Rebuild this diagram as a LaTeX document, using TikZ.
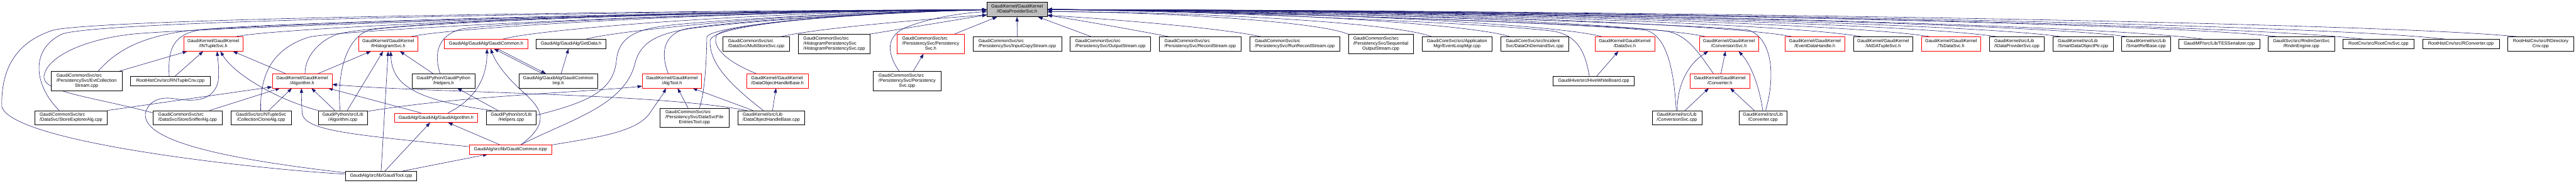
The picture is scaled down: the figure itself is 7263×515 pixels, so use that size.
\documentclass[tikz,border=0pt]{standalone}
\usepackage{fontspec}
\setmainfont{Liberation Sans}
\usetikzlibrary{arrows.meta,backgrounds}
\definecolor{edgeblue}{HTML}{191970}
\definecolor{rootgray}{HTML}{BFBFBF}
\definecolor{boxred}{HTML}{FF0000}
\newcommand\lblii[2]{\begin{tabular}{@{}l@{}}#1\\\multicolumn{1}{@{}c@{}}{#2}\end{tabular}}
\newcommand\lbliii[3]{\begin{tabular}{@{}l@{}}#1\\#2\\\multicolumn{1}{@{}c@{}}{#3}\end{tabular}}
\tikzset{
  basebox/.style={line width=1.1pt, inner sep=0pt, align=center, fill=white,
    font=\fontsize{12.8}{14}\selectfont},
  nbox/.style={basebox, draw=black},
  rbox/.style={basebox, draw=boxred},
  gbox/.style={basebox, draw=black, fill=rootgray},
  hone/.style={minimum height=26pt},
  htwo/.style={minimum height=40pt},
  hthree/.style={minimum height=54pt},
  edge/.style={draw=edgeblue, line width=1pt, -{Triangle[length=13pt,width=9pt]}},
}
\begin{document}
\begin{tikzpicture}[x=1pt,y=-1pt]
\useasboundingbox (0,0) rectangle (7263,515);
% ---------------- nodes
\node[gbox, minimum width=169pt, minimum height=41pt] (root) at (2867.5,26.5) {\lblii{GaudiKernel/GaudiKernel}{/IDataProviderSvc.h}};
% level 1
\node[rbox, htwo, minimum width=167pt] (intuple) at (601.5,124) {\lblii{GaudiKernel/GaudiKernel}{/INTupleSvc.h}};
\node[rbox, htwo, minimum width=167pt] (ihisto) at (1094.5,124) {\lblii{GaudiKernel/GaudiKernel}{/IHistogramSvc.h}};
\node[rbox, hone, minimum width=235pt] (gcommonh) at (1370.5,124) {GaudiAlg/GaudiAlg/GaudiCommon.h};
\node[nbox, hone, minimum width=196pt] (getdata) at (1610,124) {GaudiAlg/GaudiAlg/GetData.h};
\node[nbox, htwo, minimum width=188pt] (multistore) at (2132,124) {\lblii{GaudiCommonSvc/src}{/DataSvc/MultiStoreSvc.cpp}};
\node[nbox, hthree, minimum width=202pt] (histpers) at (2352,124) {\lbliii{GaudiCommonSvc/src}{/HistogramPersistencySvc}{/HistogramPersistencySvc.cpp}};
\node[rbox, hthree, minimum width=190pt] (perssvch) at (2624,124) {\lbliii{GaudiCommonSvc/src}{/PersistencySvc/Persistency}{Svc.h}};
\node[nbox, htwo, minimum width=250pt] (inputcopy) at (2868,124) {\lblii{GaudiCommonSvc/src}{/PersistencySvc/InputCopyStream.cpp}};
\node[nbox, htwo, minimum width=227pt] (outputstream) at (3130.5,124) {\lblii{GaudiCommonSvc/src}{/PersistencySvc/OutputStream.cpp}};
\node[nbox, htwo, minimum width=230pt] (recordstream) at (3384,124) {\lblii{GaudiCommonSvc/src}{/PersistencySvc/RecordStream.cpp}};
\node[nbox, htwo, minimum width=255pt] (runrecord) at (3650.5,124) {\lblii{GaudiCommonSvc/src}{/PersistencySvc/RunRecordStream.cpp}};
\node[nbox, hthree, minimum width=182pt] (seqout) at (3893,124) {\lbliii{GaudiCommonSvc/src}{/PersistencySvc/Sequential}{OutputStream.cpp}};
\node[nbox, htwo, minimum width=198pt] (eventloop) at (4108,124) {\lblii{GaudiCoreSvc/src/Application}{Mgr/EventLoopMgr.cpp}};
\node[nbox, htwo, minimum width=190pt] (dataondemand) at (4327,124) {\lblii{GaudiCoreSvc/src/Incident}{Svc/DataOnDemandSvc.cpp}};
\node[rbox, htwo, minimum width=168pt] (datasvch) at (4581,124) {\lblii{GaudiKernel/GaudiKernel}{/DataSvc.h}};
\node[rbox, htwo, minimum width=167pt] (convsvch) at (4874.5,124) {\lblii{GaudiKernel/GaudiKernel}{/ConversionSvc.h}};
\node[rbox, htwo, minimum width=168pt] (eventdatahandle) at (5117,124) {\lblii{GaudiKernel/GaudiKernel}{/EventDataHandle.h}};
\node[nbox, htwo, minimum width=167pt] (iaidatuple) at (5309.5,124) {\lblii{GaudiKernel/GaudiKernel}{/IAIDATupleSvc.h}};
\node[rbox, htwo, minimum width=168pt] (tsdatasvc) at (5501,124) {\lblii{GaudiKernel/GaudiKernel}{/TsDataSvc.h}};
\node[nbox, htwo, minimum width=155pt] (idpcpp) at (5686.5,124) {\lblii{GaudiKernel/src/Lib}{/IDataProviderSvc.cpp}};
\node[nbox, htwo, minimum width=170pt] (smartdop) at (5873,124) {\lblii{GaudiKernel/src/Lib}{/SmartDataObjectPtr.cpp}};
\node[nbox, htwo, minimum width=137pt] (smartref) at (6050.5,124) {\lblii{GaudiKernel/src/Lib}{/SmartRefBase.cpp}};
\node[nbox, hone, minimum width=228pt] (tesser) at (6257,124) {GaudiMP/src/Lib/TESSerializer.cpp};
\node[nbox, htwo, minimum width=187pt] (rndmengine) at (6488.5,124) {\lblii{GaudiSvc/src/RndmGenSvc}{/RndmEngine.cpp}};
\node[nbox, hone, minimum width=200pt] (rootcnvsvc) at (6706,124) {RootCnv/src/RootCnvSvc.cpp};
\node[nbox, hone, minimum width=217pt] (rconverter) at (6938.5,124) {RootHistCnv/src/RConverter.cpp};
\node[nbox, htwo, minimum width=187pt] (rdircnv) at (7163.5,124) {\lblii{RootHistCnv/src/RDirectory}{Cnv.cpp}};
% level 2
\node[nbox, hthree, minimum width=200pt] (evtcoll) at (244,228) {\lbliii{GaudiCommonSvc/src}{/PersistencySvc/EvtCollection}{Stream.cpp}};
\node[nbox, hone, minimum width=225pt] (rntuple) at (480.5,228) {RootHistCnv/src/RNTupleCnv.cpp};
\node[rbox, htwo, minimum width=168pt] (algorithmh) at (852,228) {\lblii{GaudiKernel/GaudiKernel}{/Algorithm.h}};
\node[nbox, htwo, minimum width=177pt] (helpersh) at (1250.5,228) {\lblii{GaudiPython/GaudiPython}{/Helpers.h}};
\node[nbox, htwo, minimum width=222pt] (gcommonimp) at (1574,228) {\lblii{GaudiAlg/GaudiAlg/GaudiCommon}{Imp.h}};
\node[rbox, htwo, minimum width=167pt] (algtoolh) at (1894.5,228) {\lblii{GaudiKernel/GaudiKernel}{/AlgTool.h}};
\node[rbox, htwo, minimum width=174pt] (dohbh) at (2192,228) {\lblii{GaudiKernel/GaudiKernel}{/DataObjectHandleBase.h}};
\node[nbox, hthree, minimum width=191pt] (perssvccpp) at (2557.5,228) {\lbliii{GaudiCommonSvc/src}{/PersistencySvc/Persistency}{Svc.cpp}};
\node[nbox, hone, minimum width=229pt] (hivewb) at (4493.5,228) {GaudiHive/src/HiveWhiteBoard.cpp};
\node[rbox, htwo, minimum width=168pt] (converterh) at (4849,228) {\lblii{GaudiKernel/GaudiKernel}{/Converter.h}};
% level 3
\node[nbox, htwo, minimum width=204pt] (storeexpl) at (200,332) {\lblii{GaudiCommonSvc/src}{/DataSvc/StoreExplorerAlg.cpp}};
\node[nbox, htwo, minimum width=196pt] (storesniff) at (529,332) {\lblii{GaudiCommonSvc/src}{/DataSvc/StoreSnifferAlg.cpp}};
\node[nbox, htwo, minimum width=170pt] (collclone) at (736,332) {\lblii{GaudiSvc/src/NTupleSvc}{/CollectionCloneAlg.cpp}};
\node[nbox, htwo, minimum width=139pt] (algcpp) at (966.5,332) {\lblii{GaudiPython/src/Lib}{/Algorithm.cpp}};
\node[rbox, hone, minimum width=235pt] (gaudialgh) at (1229.5,332) {GaudiAlg/GaudiAlg/GaudiAlgorithm.h};
\node[nbox, htwo, minimum width=139pt] (helperscpp) at (1441.5,332) {\lblii{GaudiPython/src/Lib}{/Helpers.cpp}};
\node[nbox, hthree, minimum width=194pt] (dsfetool) at (1958,332) {\lbliii{GaudiCommonSvc/src}{/PersistencySvc/DataSvcFile}{EntriesTool.cpp}};
\node[nbox, htwo, minimum width=187pt] (dohbcpp) at (2174.5,332) {\lblii{GaudiKernel/src/Lib}{/DataObjectHandleBase.cpp}};
\node[nbox, htwo, minimum width=140pt] (convsvccpp) at (4728,332) {\lblii{GaudiKernel/src/Lib}{/ConversionSvc.cpp}};
\node[nbox, htwo, minimum width=135pt] (convertercpp) at (4970.5,332) {\lblii{GaudiKernel/src/Lib}{/Converter.cpp}};
% level 4, 5
\node[rbox, hone, minimum width=233pt] (gcommonicpp) at (1439.5,421.5) {GaudiAlg/src/lib/GaudiCommon.icpp};
\node[nbox, hone, minimum width=201pt] (gauditool) at (1074.5,496) {GaudiAlg/src/lib/GaudiTool.cpp};
% arrow points on the root
\coordinate (rl1) at ([yshift=-1pt]root.west);
\coordinate (rl2) at ([yshift=-6pt]root.west);
\coordinate (rl3) at ([yshift=-15.5pt]root.west);
\coordinate (rr1) at ([yshift=-0.5pt]root.east);
\coordinate (rr2) at ([yshift=-6.5pt]root.east);
\coordinate (rr3) at ([yshift=-16.5pt]root.east);
\coordinate (rb1) at ([xshift=-56pt]root.south);
\coordinate (rb2) at (root.south);
\coordinate (rb3) at ([xshift=59pt]root.south);
% ---------------- edges
\begin{scope}[on background layer]
\fill[white] (0,0) rectangle (7263,515);
% to root, from the left
\draw[edge] ([yshift=5pt]gauditool.west) .. controls (700,475) and (30,400) .. (5,300) .. controls (3,200) and (40,120) .. (150,85) .. controls (300,50) and (2000,28) .. (rl1);
\draw[edge] ([xshift=-33pt]storeexpl.north) .. controls (95,240) and (85,140) .. (173,97) .. controls (261,54) and (2000,30) .. (rl1);
\draw[edge] ([yshift=14pt]storesniff.west) .. controls (250,270) and (110,260) .. (125,210) .. controls (135,165) and (220,115) .. (366,97) .. controls (512,79) and (2000,30) .. (rl1);
\draw[edge] ([xshift=33pt]evtcoll.north) .. controls (330,140) and (400,105) .. (520,88) .. controls (640,70) and (2000,30) .. (rl1);
\draw[edge] ([xshift=-3.5pt]rntuple.north) .. controls (474,150) and (480,100) .. (560,85) .. controls (680,65) and (2000,30) .. (rl1);
\draw[edge] ([xshift=62.5pt]intuple.north) .. controls (760,80) and (1800,30) .. (rl1);
\draw[edge] ([xshift=-1pt]collclone.north) .. controls (733,220) and (760,140) .. (870,105) .. controls (950,85) and (2000,30) .. (rl1);
\draw[edge] ([xshift=8pt]algorithmh.north) .. controls (860,148) and (917,105) .. (957,95) .. controls (1107,60) and (1983,29) .. (rl1);
\draw[edge] ([xshift=-7.5pt]algcpp.north) .. controls (950,220) and (970,110) .. (1040,85) .. controls (1150,65) and (2000,30) .. (rl1);
\draw[edge] ([xshift=63.5pt]ihisto.north) .. controls (1250,80) and (2000,32) .. (rl1);
\draw[edge] ([xshift=-9.5pt]helpersh.north) .. controls (1222,150) and (1235,100) .. (1300,82) .. controls (1400,65) and (2100,32) .. (rl1);
\draw[edge] ([xshift=46.5pt]gcommonh.north) .. controls (1500,85) and (2100,33) .. (rl1);
\draw[edge] ([xshift=42pt]getdata.north) .. controls (1720,90) and (2200,35) .. (rl1);
\draw[edge] ([yshift=7pt]helperscpp.east) .. controls (1650,290) and (1730,260) .. (1738,170) .. controls (1745,100) and (1800,80) .. (1900,70) .. controls (2100,50) and (2500,32) .. (rl1);
\draw[edge] ([xshift=29.5pt]gcommonicpp.north) .. controls (1600,340) and (1760,300) .. (1790,180) .. controls (1805,120) and (1850,95) .. (1950,80) .. controls (2150,55) and (2500,34) .. (rl1);
\draw[edge] ([xshift=-10.5pt]algtoolh.north) .. controls (1862,150) and (1870,100) .. (1930,82) .. controls (2050,60) and (2450,35) .. (rl1);
\draw[edge] ([xshift=14pt]dsfetool.north) .. controls (1990,250) and (1992,150) .. (1993,105) .. controls (1996,75) and (2350,36) .. (rl1);
\draw[edge] ([xshift=-22.5pt]dohbcpp.north) .. controls (2060,240) and (2000,180) .. (2002,115) .. controls (2004,75) and (2300,40) .. (rl1);
\draw[edge] ([xshift=-60pt]dohbh.north) .. controls (2040,170) and (2008,130) .. (2020,100) .. controls (2035,70) and (2350,40) .. (rl1);
\draw[edge] ([xshift=69pt]multistore.north) .. controls (2300,80) and (2600,55) .. (rl3);
\draw[edge] ([xshift=-3pt]histpers.north east) -- (rl3);
\draw[edge] ([xshift=-22.5pt]perssvccpp.north) .. controls (2500,150) and (2495,100) .. (2560,75) .. controls (2620,52) and (2700,38) .. (rl2);
% to root, from below
\draw[edge] ([xshift=66pt]perssvch.north) -- (rb1);
\draw[edge] (inputcopy.north) -- (rb2);
\draw[edge] ([xshift=-53.5pt]outputstream.north) -- (rb3);
% to root, from the right
\draw[edge] ([xshift=-87pt]recordstream.north) .. controls (3200,85) and (3050,58) .. (rr3);
\draw[edge] ([xshift=-94.5pt]runrecord.north) .. controls (3450,80) and (3150,55) .. (rr3);
\draw[edge] (seqout.north west) .. controls (3717,60) and (3266,33) .. (rr2);
\draw[edge] ([xshift=-71pt]eventloop.north) .. controls (3929,62) and (3353,33) .. (rr2);
\draw[edge] ([xshift=-69pt]dataondemand.north) .. controls (4127,62) and (3435,28) .. (rr1);
\draw[edge] ([xshift=-63pt]datasvch.north) .. controls (4361,62) and (3531,28) .. (rr1);
\draw[edge] ([xshift=-64.5pt]convsvch.north) .. controls (4624,62) and (3639,28) .. (rr1);
\draw[edge] ([xshift=-63pt]eventdatahandle.north) .. controls (4844,62) and (3730,28) .. (rr1);
\draw[edge] ([xshift=-59.5pt]iaidatuple.north) .. controls (5020,62) and (3802,28) .. (rr1);
\draw[edge] ([xshift=-58pt]tsdatasvc.north) .. controls (5194,62) and (3874,28) .. (rr1);
\draw[edge] ([xshift=-55.5pt]idpcpp.north) .. controls (5363,62) and (3943,28) .. (rr1);
\draw[edge] ([xshift=-61pt]smartdop.north) .. controls (5526,62) and (4010,28) .. (rr1);
\draw[edge] ([xshift=-51.5pt]smartref.north) .. controls (5694,62) and (4079,28) .. (rr1);
\draw[edge] ([xshift=-45pt]tesser.north) .. controls (5886,65) and (4158,28) .. (rr1);
\draw[edge] ([xshift=-66.5pt]rndmengine.north) .. controls (6075,62) and (4236,28) .. (rr1);
\draw[edge] ([xshift=-42pt]rootcnvsvc.north) .. controls (6293,65) and (4325,28) .. (rr1);
\draw[edge] ([xshift=-43.5pt]rconverter.north) .. controls (6501,65) and (4411,28) .. (rr1);
\draw[edge] ([xshift=-64.5pt]rdircnv.north) .. controls (6684,62) and (4486,28) .. (rr1);
\draw[edge] ([xshift=-12.5pt]hivewb.north) .. controls (4470,150) and (4450,100) .. (4380,88) .. controls (4200,65) and (3400,32) .. (rr1);
\draw[edge] ([xshift=-2pt]convsvccpp.north) .. controls (4720,200) and (4700,100) .. (4640,85) .. controls (4450,65) and (3500,32) .. (rr1);
\draw[edge] ([xshift=-18pt]converterh.north) .. controls (4790,150) and (4760,100) .. (4700,88) .. controls (4500,65) and (3500,32) .. (rr1);
\draw[edge] ([xshift=7.5pt]convertercpp.north) .. controls (5005,220) and (5000,110) .. (4930,85) .. controls (4700,62) and (3500,30) .. (rr1);
% INTupleSvc.h
\draw[edge] ([xshift=93pt]evtcoll.north) -- ([xshift=-73.5pt]intuple.south);
\draw[edge] ([xshift=13.5pt]rntuple.north) -- ([xshift=-28.5pt]intuple.south);
\draw[edge] ([yshift=9pt]gauditool.west) .. controls (650,450) and (400,400) .. (410,320) .. controls (418,285) and (450,272) .. (490,278) .. controls (540,286) and (600,290) .. (615,230) .. controls (619,200) and (614,165) .. ([xshift=10.5pt]intuple.south);
\draw[edge] (algcpp.north west) .. controls (780,280) and (660,210) .. ([xshift=20pt]intuple.south);
\draw[edge] ([xshift=-47pt]algorithmh.north) -- ([xshift=55pt]intuple.south);
% Algorithm.h
\draw[edge] (storeexpl.north east) -- ([yshift=-17pt]algorithmh.west);
\draw[edge] ([xshift=62pt]storesniff.north) -- ([xshift=-62pt]algorithmh.south);
\draw[edge] ([xshift=22pt]collclone.north) -- ([xshift=-29pt]algorithmh.south);
\draw[edge] ([xshift=-22.5pt]algcpp.north) -- ([xshift=26pt]algorithmh.south);
\draw[edge] ([xshift=-42.5pt]gaudialgh.north) -- ([xshift=73pt]algorithmh.south);
\draw[edge] ([yshift=8pt]gcommonicpp.west) .. controls (1000,380) and (860,370) .. (852,320) .. controls (850,290) and (850,270) .. ([xshift=-2pt]algorithmh.south);
\draw[edge] ([xshift=-69.5pt]dohbcpp.north) .. controls (1850,262) and (1200,262) .. ([yshift=-10pt]algorithmh.east);
% IHistogramSvc.h
\draw[edge] ([xshift=45pt]algorithmh.north) -- ([xshift=-48.5pt]ihisto.south);
\draw[edge] ([xshift=12.5pt]algcpp.north) -- ([xshift=-14.5pt]ihisto.south);
\draw[edge] (gauditool.north) -- (ihisto.south);
\draw[edge] ([xshift=-55.5pt]helperscpp.north) .. controls (1150,280) and (1105,230) .. ([xshift=7pt]ihisto.south);
\draw[edge] ([xshift=-29.5pt]helpersh.north) -- ([xshift=33pt]ihisto.south);
\draw[edge] ([xshift=-37.5pt]helperscpp.north) -- ([xshift=38.5pt]helpersh.south);
% GaudiCommon.h, GetData.h
\draw[edge] ([xshift=33.5pt]gaudialgh.north) .. controls (1340,280) and (1373,220) .. ([xshift=2.5pt]gcommonh.south);
\draw[edge] ([xshift=29.5pt]gcommonicpp.north) .. controls (1560,340) and (1520,300) .. (1470,255) .. controls (1420,210) and (1395,170) .. ([xshift=13pt]gcommonh.south);
\draw[edge] ([xshift=-45pt]gcommonimp.north) -- ([xshift=22pt]gcommonh.south);
\draw[edge] ([xshift=32pt]gcommonh.south) -- ([xshift=-35pt]gcommonimp.north);
\draw[edge] ([xshift=8pt]gcommonimp.north) -- ([xshift=-7pt]getdata.south);
% GaudiAlgorithm.h, GaudiCommon.icpp
\draw[edge] ([xshift=10.5pt]gauditool.north) -- ([xshift=-16.5pt]gaudialgh.south);
\draw[edge] ([xshift=-30.5pt]gcommonicpp.north) -- ([xshift=33.5pt]gaudialgh.south);
\draw[edge] ([xshift=60pt]gauditool.north) -- ([xshift=-64.5pt]gcommonicpp.south);
% AlgTool.h, DataObjectHandleBase.h
\draw[edge] ([yshift=18pt]algcpp.east) .. controls (1300,270) and (1650,260) .. ([yshift=-15pt]algtoolh.west);
\draw[edge] ([yshift=13pt]gcommonicpp.east) .. controls (1700,385) and (1800,370) .. (1835,315) .. controls (1855,285) and (1870,265) .. ([xshift=-17pt]algtoolh.south);
\draw[edge] ([xshift=-18pt]dsfetool.north) -- ([xshift=16pt]algtoolh.south);
\draw[edge] ([xshift=-51.5pt]dohbcpp.north) -- ([xshift=58pt]algtoolh.south);
\draw[edge] ([xshift=3.5pt]dohbcpp.north) -- ([xshift=-4pt]dohbh.south);
% PersistencySvc.h
\draw[edge] ([xshift=17.5pt]perssvccpp.north) -- ([xshift=-20pt]perssvch.south);
% DataSvc.h, ConversionSvc.h, Converter.h
\draw[edge] ([xshift=8.5pt]hivewb.north) -- ([xshift=-18pt]datasvch.south);
\draw[edge] ([xshift=1pt]convsvccpp.north) .. controls (4728,240) and (4760,180) .. ([xshift=-58pt]convsvch.south);
\draw[edge] ([xshift=23pt]convsvccpp.north) -- ([xshift=-31pt]converterh.south);
\draw[edge] ([xshift=3pt]converterh.north) -- ([xshift=-9.5pt]convsvch.south);
\draw[edge] ([xshift=-0.5pt]convertercpp.north) .. controls (4960,240) and (4935,180) .. ([xshift=27.5pt]convsvch.south);
\draw[edge] ([xshift=-24.5pt]convertercpp.north) -- ([xshift=29pt]converterh.south);
\end{scope}
\end{tikzpicture}
\end{document}
